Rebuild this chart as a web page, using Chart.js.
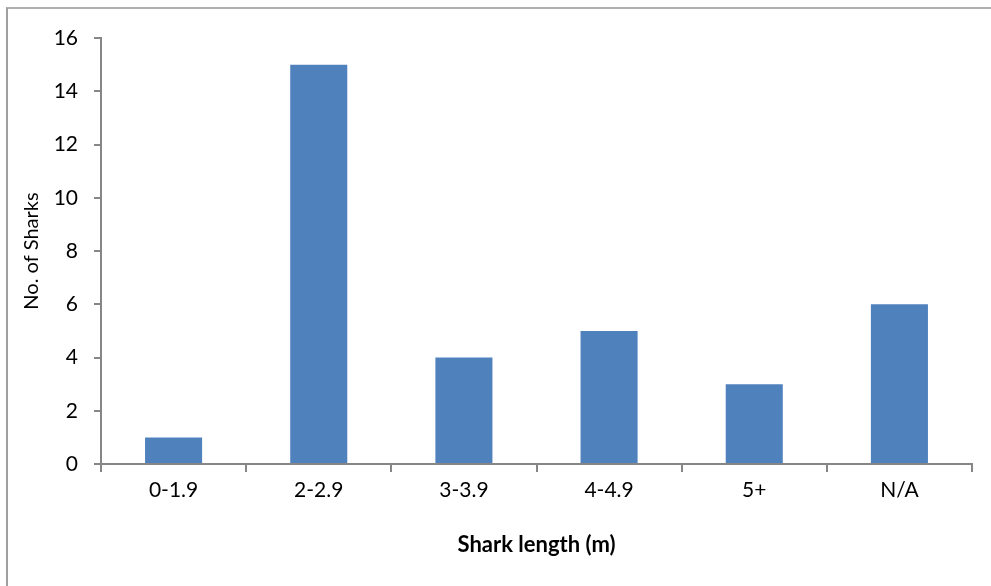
<!DOCTYPE html>
<html><head><meta charset="utf-8">
<script src="https://cdn.jsdelivr.net/npm/chart.js@4/dist/chart.umd.min.js"></script>
<style>
html,body{margin:0;padding:0;background:#fff;}
#wrap{position:relative;width:991px;height:586px;}
#frame{position:absolute;left:6px;top:7px;right:-10px;bottom:-10px;border-top:2px solid #b0b0b0;border-left:2px solid #a0a0a0;pointer-events:none;}
canvas{position:absolute;left:0;top:0;}
</style></head>
<body>
<div id="wrap"><canvas id="c" width="991" height="586"></canvas><div id="frame"></div></div>
<script>
const categories = ["0-1.9","2-2.9","3-3.9","4-4.9","5+","N/A"];
const sharkCounts = [1,15,4,5,3,6];
const yTicks = [0,2,4,6,8,10,12,14,16];
const xTitle = "Shark length (m)";
const yTitle = "No. of Sharks";

const FONT = "Lato, 'Open Sans', sans-serif";
const axisColor = "#868686";
new Chart(document.getElementById('c'), {
  type: 'bar',
  data: { labels: categories, datasets: [{ data: sharkCounts, backgroundColor: '#4F81BD', borderWidth: 0, categoryPercentage: 1, barPercentage: 0.393 }] },
  options: {
    responsive: false, animation: false,
    layout: { padding: { left: 20, right: 19, top: 38, bottom: 16 } },
    plugins: { legend: { display: false }, tooltip: { enabled: false } },
    scales: {
      x: {
        grid: { drawOnChartArea: false, drawTicks: true, tickLength: 8, color: axisColor, lineWidth: 2 },
        border: { color: axisColor, width: 2 },
        ticks: { color: '#000', font: { family: FONT, size: 21 }, padding: 6 },
        title: { display: true, text: xTitle, color: '#000', font: { family: FONT, size: 22, weight: 'bold' }, padding: { top: 10, bottom: 12 } },
        afterFit: s => { s.height = 586 - 16 - 464; }
      },
      y: {
        min: 0, max: 16,
        afterBuildTicks: s => { s.ticks = yTicks.map(v => ({ value: v })); },
        grid: { drawOnChartArea: false, drawTicks: true, tickLength: 7, color: axisColor, lineWidth: 2 },
        border: { color: axisColor, width: 2 },
        ticks: { color: '#000', font: { family: FONT, size: 21 }, padding: 16 },
        title: { display: true, text: yTitle, color: '#000', font: { family: FONT, size: 20 }, padding: { top: 0, bottom: 8 } },
        afterFit: s => { s.width = 101 - 20; }
      }
    }
  }
});
</script>
</body></html>
